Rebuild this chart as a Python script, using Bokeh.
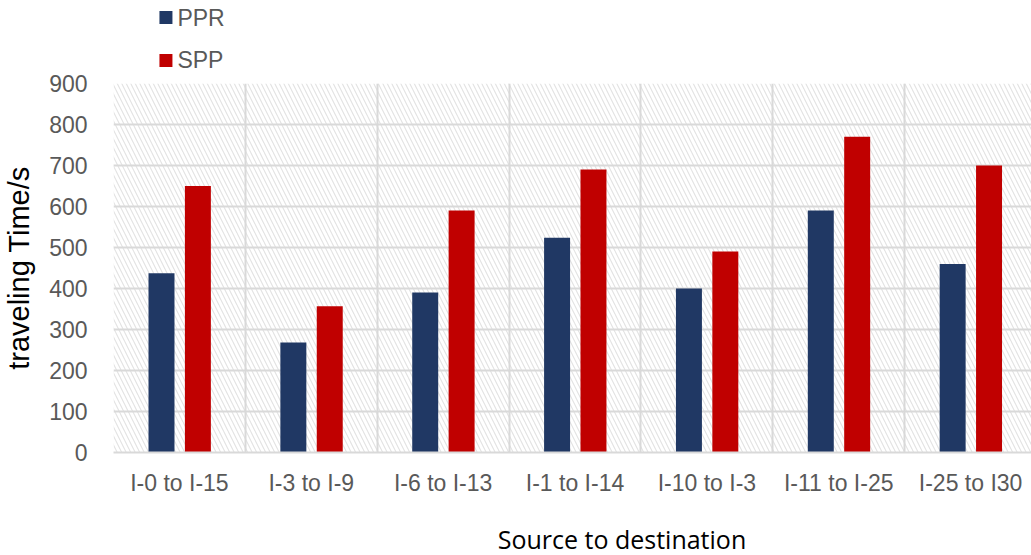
from bokeh.plotting import figure
from bokeh.layouts import column
from bokeh.models import Range1d, FixedTicker
from bokeh.core.properties import value
from bokeh.embed import file_html
from bokeh.resources import INLINE

categories = ["I-0 to I-15", "I-3 to I-9", "I-6 to I-13", "I-1 to I-14",
              "I-10 to I-3", "I-11 to I-25", "I-25 to I30"]
ppr = [437, 268, 390, 524, 400, 590, 460]
spp = [650, 357, 590, 690, 490, 770, 700]
series_names = ["PPR", "SPP"]
series_colors = ["#203864", "#c00000"]
y_ticks = [0, 100, 200, 300, 400, 500, 600, 700, 800, 900]
x_title = "Source to destination"
y_title = "traveling Time/s"

n = len(categories)
centers = [i + 0.5 for i in range(n)]
ppr_x = [c - 0.136 for c in centers]
spp_x = [c + 0.14 for c in centers]


def strip(height):
    f = figure(width=1031, height=height, output_backend="svg", toolbar_location=None,
               x_range=Range1d(112, 1031), y_range=Range1d(height, 0),
               x_axis_type=None, y_axis_type=None,
               min_border_left=112, min_border_right=0, min_border_top=0,
               min_border_bottom=0)
    f.outline_line_color = None
    f.xgrid.visible = False
    f.ygrid.visible = False
    return f


# ---- legend strip ----
leg = strip(71)
leg_y = [17, 59]
leg.scatter(x=[164.5, 164.5], y=[17, 60], marker="square", size=13,
            fill_color=series_colors, line_color=None)
leg.text(x=[176, 176], y=leg_y, text=series_names, text_baseline="middle",
         text_align="left", text_font=value("Liberation Sans"),
         text_font_size="23px", text_line_height=1.0, text_color="#595959")

# ---- main chart ----
p = figure(width=1031, height=427, output_backend="svg", toolbar_location=None,
           x_range=Range1d(0, 6.962), y_range=Range1d(0, 900),
           min_border_left=112, min_border_right=0, min_border_top=12,
           min_border_bottom=43)
p.outline_line_color = None
p.background_fill_color = "white"
p.border_fill_color = "white"

p.quad(left=[0], right=[6.962], bottom=[0], top=[900], fill_color="white",
       line_color=None, hatch_pattern="left_diagonal_line", hatch_color="#e2e2e2",
       hatch_scale=9, hatch_weight=1.1, level="underlay")

p.vbar(x=ppr_x, top=ppr, width=0.197, fill_color=series_colors[0], line_color=None)
p.vbar(x=spp_x, top=spp, width=0.197, fill_color=series_colors[1], line_color=None)

p.xgrid.ticker = FixedTicker(ticks=list(range(n + 1)))
p.xgrid.grid_line_color = "#d9d9d9"
p.xgrid.grid_line_width = 2
p.ygrid.ticker = FixedTicker(ticks=y_ticks)
p.ygrid.grid_line_color = "#d9d9d9"
p.ygrid.grid_line_width = 2

p.xaxis.ticker = FixedTicker(ticks=centers)
p.xaxis.major_label_overrides = {c: lab for c, lab in zip(centers, categories)}
p.xaxis.major_tick_line_color = None
p.xaxis.minor_tick_line_color = None
p.xaxis.axis_line_color = "#d9d9d9"
p.xaxis.axis_line_width = 2
p.xaxis.major_label_text_font = "Liberation Sans"
p.xaxis.major_label_text_font_size = "23px"
p.xaxis.major_label_text_color = "#595959"
p.xaxis.major_label_standoff = 11

p.yaxis.ticker = FixedTicker(ticks=y_ticks)
p.yaxis.major_tick_line_color = None
p.yaxis.minor_tick_line_color = None
p.yaxis.axis_line_color = None
p.yaxis.major_label_text_font = "Liberation Sans"
p.yaxis.major_label_text_font_size = "23px"
p.yaxis.major_label_text_color = "#595959"
p.yaxis.major_label_standoff = 20
p.yaxis.axis_label = y_title
p.yaxis.axis_label_text_font = "Liberation Sans"
p.yaxis.axis_label_text_font_size = "29px"
p.yaxis.axis_label_text_font_style = "normal"
p.yaxis.axis_label_text_color = "black"
p.yaxis.axis_label_standoff = 11

# ---- x-axis title strip ----
bot = strip(57)
bot.text(x=[621], y=[40], text=[x_title], text_baseline="middle",
         text_align="center", text_font=value("Open Sans"),
         text_font_size="25px", text_color="black")

layout = column(leg, p, bot, spacing=0)
open("out.html", "w").write(file_html(layout, INLINE))
